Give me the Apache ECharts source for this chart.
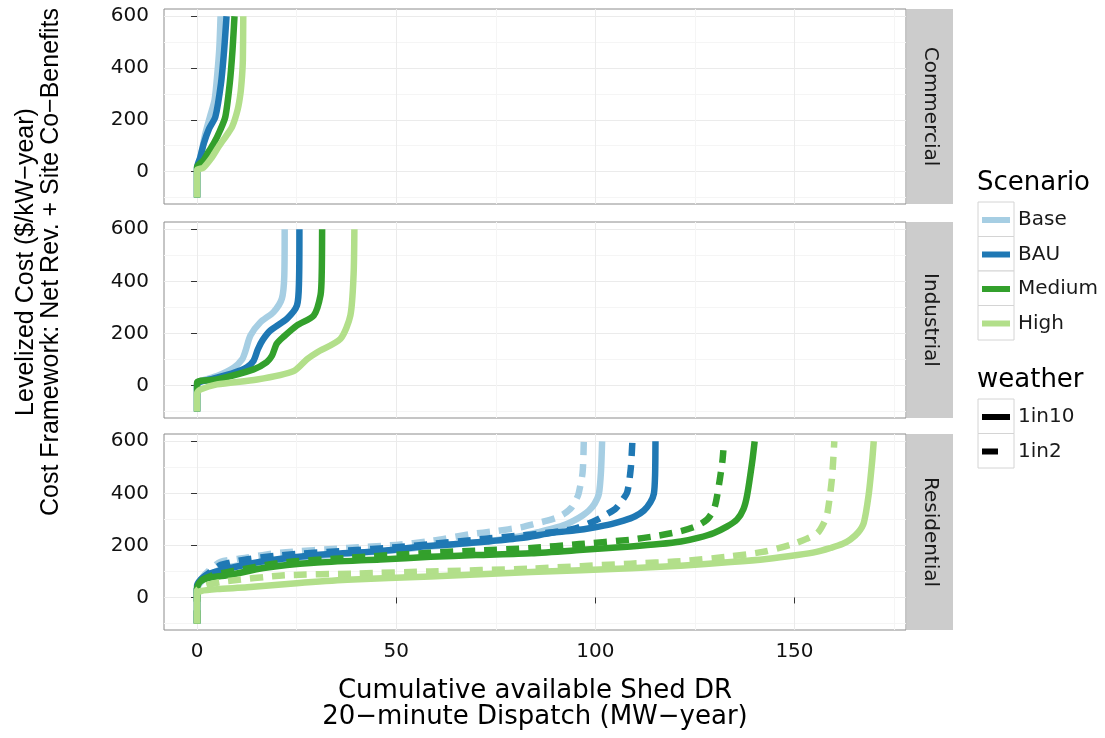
<!DOCTYPE html>
<html><head><meta charset="utf-8">
<script src="https://cdn.jsdelivr.net/npm/echarts@6/dist/echarts.min.js"></script>
<style>html,body{margin:0;padding:0;background:#fff}#c{width:1105px;height:738px}</style>
</head><body><div id="c"></div>
<script>
// ---------- data ----------
const sectors = ['Commercial', 'Industrial', 'Residential'];
const scenarios = ['Base', 'BAU', 'Medium', 'High'];
const weathers = ['1in10', '1in2'];
const scenarioColors = ['#a6cee3', '#1f78b4', '#33a02c', '#b2df8a'];
const xTicks = [0, 50, 100, 150];
const xMinorTicks = [25, 75, 125, 175];
const yTicks = [0, 200, 400, 600];
const yMinorTicks = [-100, 100, 300, 500];

// Commercial (1in10 and 1in2 coincide)
const comBase   = [[0,-100],[0,10],[0.7,45],[2.1,148],[3.2,210],[4.4,276],[5.1,380],[5.6,480],[5.9,600]];
const comBAU    = [[0,-100],[0,15],[0.8,55],[1.7,109],[3.0,165],[4.6,212],[6.0,340],[6.8,469],[7.4,600]];
const comMedium = [[0,-100],[0,18],[1.7,45],[3.0,80],[4.2,109],[5.8,160],[7.1,212],[8.2,340],[8.9,469],[9.4,600]];
const comHigh   = [[0,-100],[0,6],[1.5,14],[3.5,50],[5.4,96],[7.4,140],[8.8,173],[10.2,240],[10.9,302],[11.3,370],[11.5,430],[11.6,600]];

// Industrial (1in10 and 1in2 coincide)
const indBase   = [[0,-100],[0,0],[0.8,17],[5,36],[9.2,68],[11.3,100],[12.1,130],[13.4,192],[15.9,243],[19.2,282],[21.3,334],[21.9,420],[22.0,600]];
const indBAU    = [[0,-100],[0,5],[3.3,23],[9.2,49],[12.5,70],[14.2,95],[15.3,140],[16.5,175],[18.4,211],[22.6,257],[25.1,308],[25.6,400],[25.7,600]];
const indMedium = [[0,-100],[0,10],[5,23],[14.2,62],[17.5,90],[18.8,114],[20.0,160],[21.8,188],[25.1,231],[29.3,269],[31.0,347],[31.3,430],[31.4,600]];
const indHigh   = [[0,-100],[0,-30],[0.8,-16],[5,4],[15.1,23],[24.3,56],[27.6,101],[30.1,127],[36.0,179],[38.5,269],[39.3,425],[39.5,600]];

// Residential
const resBase10   = [[0,-100],[0,30],[1,60],[3,85],[6,108],[10,122],[17,138],[25,152],[37.7,168],[50,182],[58.6,196],[68,208],[76,222],[81.2,235],[86,252],[89.6,266],[92.5,280],[94.6,295],[96.8,315],[98.4,334],[99.8,360],[100.9,399],[101.4,480],[101.7,600]];
const resBase2    = [[0,-100],[0,40],[1.5,80],[3.5,110],[5.9,137],[12,152],[20.9,172],[37.7,190],[50,202],[58.6,217],[68.6,243],[75,255],[81.2,269],[84.5,282],[87.9,295],[90.5,308],[92.1,321],[94,345],[95.3,380],[95.8,399],[96.8,480],[97.1,600]];
const resBAU10    = [[0,-100],[0,45],[1,70],[2.5,87],[5,100],[8.4,113],[16.7,139],[29.3,162],[46,178],[56,195],[65,205],[72.8,215],[81.2,228],[89.6,249],[95,258],[99.6,269],[104,282],[107.1,295],[110,312],[112.2,334],[113.8,365],[114.7,399],[115,470],[115.1,600]];
const resBAU2     = [[0,-100],[0,40],[1.5,75],[3.5,100],[6,125],[12,145],[20.9,162],[37.7,180],[50,193],[58.6,205],[70,222],[81.2,238],[86,245],[91.2,254],[95,265],[98,282],[100.6,300],[103,321],[105,340],[106.4,366],[108,405],[108.9,497],[109.3,600]];
const resMedium10 = [[0,-100],[0,35],[0.8,61],[3,75],[8.4,87],[16.7,113],[29.3,133],[46,146],[58.6,156],[70,163],[83.9,170],[96,182],[108.9,196],[116,205],[121.5,215],[126,230],[129.8,248],[133,272],[135.6,300],[137.2,340],[138.1,392],[139.4,523],[140,600]];
const resMedium2  = [[0,-100],[0,40],[1,65],[4,85],[8.4,100],[20.9,133],[37.7,152],[58.6,172],[70,180],[83.9,190],[96,205],[108.9,222],[116,238],[121.5,255],[125.5,275],[128.1,300],[129.8,340],[130.6,392],[131.9,523],[132.3,600]];
const resHigh10   = [[0,-100],[0,15],[1,25],[5,32],[12.6,39],[25,55],[37.7,68],[58.6,81],[83.9,98],[108.9,112],[121.4,122],[134,136],[143,148],[150.7,163],[155.5,175],[159,190],[162,205],[164,222],[166,250],[167.4,287],[168.6,392],[169.5,523],[169.9,600]];
const resHigh2    = [[0,-100],[0,25],[2,45],[6.7,61],[22,85],[40,92],[58.6,100],[83.9,111],[108.9,130],[121.4,139],[134,158],[142,175],[149,202],[153,225],[155.8,248],[157.5,290],[158.3,327],[159.4,457],[160,600]];

const curves = {
  Commercial:  { Base: {'1in10': comBase}, BAU: {'1in10': comBAU}, Medium: {'1in10': comMedium}, High: {'1in10': comHigh} },
  Industrial:  { Base: {'1in10': indBase}, BAU: {'1in10': indBAU}, Medium: {'1in10': indMedium}, High: {'1in10': indHigh} },
  Residential: { Base: {'1in10': resBase10, '1in2': resBase2}, BAU: {'1in10': resBAU10, '1in2': resBAU2},
                 Medium: {'1in10': resMedium10, '1in2': resMedium2}, High: {'1in10': resHigh10, '1in2': resHigh2} }
};

// ---------- layout ----------
const PLOT_LEFT = 164, PLOT_W = 742;
const gridTops = [9, 222, 434];
const gridHeights = [195, 196, 196];
const XMIN = -8.3, XMAX = 178, YMIN = -125, YMAX = 628;
const tickFont = 'DejaVu Sans';

const chart = echarts.init(document.getElementById('c'), null, {renderer: 'canvas'});

const grid = [], xAxis = [], yAxis = [], series = [];
sectors.forEach((sec, i) => {
  grid.push({left: PLOT_LEFT, top: gridTops[i], width: PLOT_W, height: gridHeights[i],
    show: true, borderColor: '#8c8c8c', borderWidth: 1, backgroundColor: '#ffffff'});
  const bottom = (i === 2);
  xAxis.push({type: 'value', gridIndex: i, min: XMIN, max: XMAX, position: 'bottom',
    axisLine: {show: false},
    axisTick: {show: bottom, length: 6, customValues: xTicks, lineStyle: {color: '#333'}},
    axisLabel: {show: bottom, customValues: xTicks, margin: 12, fontSize: 20, fontFamily: tickFont, color: '#111'},
    splitLine: {show: true, lineStyle: {color: '#ebebeb', width: 1}}});
  xAxis.push({type: 'value', gridIndex: i, min: XMIN, max: XMAX, position: 'top',
    axisLine: {show: false},
    axisTick: {show: false, customValues: xMinorTicks},
    axisLabel: {show: false, customValues: xMinorTicks},
    splitLine: {show: true, lineStyle: {color: '#f5f5f5', width: 1}}});
  yAxis.push({type: 'value', gridIndex: i, min: YMIN, max: YMAX, position: 'left',
    axisLine: {show: false},
    axisTick: {show: true, length: 6, customValues: yTicks, lineStyle: {color: '#333'}},
    axisLabel: {show: true, customValues: yTicks, margin: 15, fontSize: 20, fontFamily: tickFont, color: '#111'},
    splitLine: {show: true, lineStyle: {color: '#ebebeb', width: 1}}});
  yAxis.push({type: 'value', gridIndex: i, min: YMIN, max: YMAX, position: 'right',
    axisLine: {show: false},
    axisTick: {show: false, customValues: yMinorTicks},
    axisLabel: {show: false, customValues: yMinorTicks},
    splitLine: {show: true, lineStyle: {color: '#f5f5f5', width: 1}}});

  scenarios.forEach((sc, k) => {
    ['1in2', '1in10'].forEach(w => {
      const d = curves[sec][sc][w];
      if (!d) return;
      series.push({
        type: 'line', name: sc, xAxisIndex: 2 * i, yAxisIndex: 2 * i,
        data: d, showSymbol: false, symbol: 'none', smooth: 0.25, silent: true,
        color: scenarioColors[k],
        lineStyle: {color: scenarioColors[k], width: 6.5, cap: 'butt', join: 'round',
          type: w === '1in2' ? [13, 9] : 'solid'}
      });
    });
  });
});
// legend-only series for weather
series.push({type: 'line', name: '1in10', xAxisIndex: 0, yAxisIndex: 0, data: [], color: '#000', lineStyle: {color: '#000'}});
series.push({type: 'line', name: '1in2', xAxisIndex: 0, yAxisIndex: 0, data: [], color: '#000', lineStyle: {color: '#000', type: 'dashed'}});

const legendText = {fontSize: 20, fontFamily: 'DejaVu Sans', color: '#1a1a1a', padding: [0, 0, 0, 3]};
const legend = [
  {data: scenarios, orient: 'vertical', left: 982, top: 210, padding: 0, icon: 'rect', itemWidth: 28, itemHeight: 6,
   itemGap: 14.5, selectedMode: false, textStyle: legendText, z: 10},
  {data: [{name: '1in10'}, {name: '1in2', icon: 'path://M0,0L16,0L16,6L0,6Z M28,3L28,3'}],
   orient: 'vertical', left: 982, top: 407, padding: 0, icon: 'rect', itemWidth: 28, itemHeight: 6,
   itemGap: 14.5, selectedMode: false, textStyle: legendText, z: 10}
];

// ---------- decorations ----------
const graphic = [];
sectors.forEach((sec, i) => {
  graphic.push({type: 'rect', shape: {x: 907, y: gridTops[i], width: 46, height: gridHeights[i]},
    style: {fill: '#cccccc', stroke: null}, z: 0, silent: true});
  graphic.push({type: 'text', x: 930, y: gridTops[i] + gridHeights[i] / 2, rotation: -Math.PI / 2,
    style: {text: sec, fontSize: 20, fontFamily: 'DejaVu Sans', fill: '#1a1a1a',
      align: 'center', verticalAlign: 'middle', textAlign: 'center', textVerticalAlign: 'middle'}, z: 1, silent: true});
});
for (let k = 0; k < 4; k++) {
  graphic.push({type: 'rect', shape: {x: 978, y: 202 + k * 34.5, width: 36, height: 34.5},
    style: {fill: '#fff', stroke: '#d4d4d4', lineWidth: 1}, z: 0, silent: true});
}
for (let k = 0; k < 2; k++) {
  graphic.push({type: 'rect', shape: {x: 978, y: 399 + k * 34.5, width: 36, height: 34.5},
    style: {fill: '#fff', stroke: '#d4d4d4', lineWidth: 1}, z: 0, silent: true});
}
graphic.push({type: 'text', x: 977, y: 183,
  style: {text: 'Scenario', fontSize: 26, fontFamily: 'DejaVu Sans', fill: '#000',
    align: 'left', verticalAlign: 'middle', textAlign: 'left', textVerticalAlign: 'middle'}, silent: true});
graphic.push({type: 'text', x: 977, y: 380,
  style: {text: 'weather', fontSize: 26, fontFamily: 'DejaVu Sans', fill: '#000',
    align: 'left', verticalAlign: 'middle', textAlign: 'left', textVerticalAlign: 'middle'}, silent: true});
graphic.push({type: 'text', x: 535, y: 704,
  style: {text: 'Cumulative available Shed DR\n20\u2212minute Dispatch (MW\u2212year)', fontSize: 26, lineHeight: 26,
    fontFamily: 'DejaVu Sans', fill: '#000',
    align: 'center', verticalAlign: 'middle', textAlign: 'center', textVerticalAlign: 'middle'}, silent: true});
graphic.push({type: 'text', x: 39, y: 262, rotation: Math.PI / 2,
  style: {text: 'Levelized Cost ($/kW\u2212year)\nCost Framework: Net Rev. + Site Co\u2212Benefits', fontSize: 25, lineHeight: 25,
    fontFamily: 'Liberation Sans', fill: '#000',
    align: 'center', verticalAlign: 'middle', textAlign: 'center', textVerticalAlign: 'middle'}, silent: true});

chart.setOption({
  animation: false,
  backgroundColor: '#ffffff',
  grid, xAxis, yAxis, series, legend, graphic
});
</script>
</body></html>
